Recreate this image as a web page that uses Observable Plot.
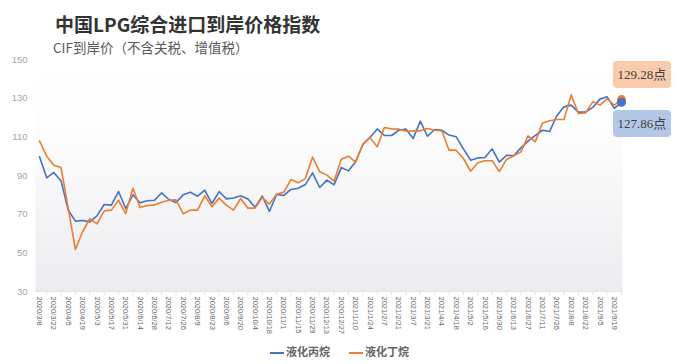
<!DOCTYPE html>
<html>
<head>
<meta charset="utf-8">
<script src="https://cdn.jsdelivr.net/npm/d3@7"></script>
<script src="https://cdn.jsdelivr.net/npm/@observablehq/plot@0.6"></script>
<style>
  html, body { margin: 0; padding: 0; background: #fff; }
  #wrap { position: relative; width: 677px; height: 364px; overflow: hidden; font-family: "Noto Sans CJK SC", "Noto Sans", sans-serif; }
  #wrap svg { position: absolute; left: 0; top: 0; }
  .title { position: absolute; left: 55px; top: 11px; font-size: 19px; font-weight: bold; color: #333; white-space: nowrap; line-height: 26px; }
  .subtitle { position: absolute; left: 53px; top: 38px; font-size: 13.5px; color: #595959; white-space: nowrap; line-height: 18px; }
  .legend { position: absolute; top: 343px; left: 270px; font-size: 11px; font-weight: bold; color: #666; white-space: nowrap; line-height: 16px; }
  .legend span.item { display: inline-block; margin-right: 19px; }
  .legend i { display: inline-block; width: 14px; height: 2px; vertical-align: middle; margin-right: 2px; }
  .note { position: absolute; width: 58px; height: 27px; border-radius: 4px; font-family: "Liberation Serif", "Noto Sans CJK SC", serif; font-size: 13px; color: #404040; text-align: center; line-height: 27px; white-space: nowrap; }
</style>
</head>
<body>
<div id="wrap">
  <div class="title">中国LPG综合进口到岸价格指数</div>
  <div class="subtitle">CIF到岸价（不含关税、增值税）</div>
</div>
<script>
const dates = [
  "2020/3/8","2020/3/15","2020/3/22","2020/3/29","2020/4/5","2020/4/12","2020/4/19","2020/4/26",
  "2020/5/3","2020/5/10","2020/5/17","2020/5/24","2020/5/31","2020/6/7","2020/6/14","2020/6/21",
  "2020/6/28","2020/7/5","2020/7/12","2020/7/19","2020/7/26","2020/8/2","2020/8/9","2020/8/16",
  "2020/8/23","2020/8/30","2020/9/6","2020/9/13","2020/9/20","2020/9/27","2020/10/4","2020/10/11",
  "2020/10/18","2020/10/25","2020/11/1","2020/11/8","2020/11/15","2020/11/22","2020/11/29","2020/12/6",
  "2020/12/13","2020/12/20","2020/12/27","2021/1/3","2021/1/10","2021/1/17","2021/1/24","2021/1/31",
  "2021/2/7","2021/2/14","2021/2/21","2021/2/28","2021/3/7","2021/3/14","2021/3/21","2021/3/28",
  "2021/4/4","2021/4/11","2021/4/18","2021/4/25","2021/5/2","2021/5/9","2021/5/16","2021/5/23",
  "2021/5/30","2021/6/6","2021/6/13","2021/6/20","2021/6/27","2021/7/4","2021/7/11","2021/7/18",
  "2021/7/25","2021/8/1","2021/8/8","2021/8/15","2021/8/22","2021/8/29","2021/9/5","2021/9/12",
  "2021/9/19","2021/9/26"
];
const propane = [
  99.7, 88.8, 91.6, 87.2, 72, 66.4, 66.7, 66, 69.1, 75, 74.7, 81.7, 72.9, 80, 75.9, 76.9,
  77.2, 81, 77.6, 76, 80, 81.4, 79.3, 82.4, 75.5, 81.7, 77.9, 78.4, 79.5, 77.9, 73.6, 79.3,
  71.4, 80.2, 79.7, 82.8, 83.4, 85.3, 91.4, 83.8, 87.6, 85.2,
  94.1, 92.4, 97.1, 106, 109.7, 114.1, 110.7, 110.7, 113.4, 114, 109.1, 118.1, 110.3, 113.8,
  113.4, 110.9, 110, 103.8, 97.9, 99.1, 99.3, 103.8, 96.9, 100.5, 100.2, 104.3, 107.8, 110.7,
  113.4, 112.8, 120.9, 125.5, 126.4, 122.8, 122.8, 125.2, 129.5, 130.7, 124.7, 127.86
];
const butane = [
  107.9, 100, 95.3, 94.1, 73, 51.7, 60.9, 67.6, 65, 71.7, 72.1, 77.2, 70.3, 83.4, 73.4, 74.5,
  74.8, 76.2, 77.2, 77.4, 70.2, 72.1, 72.1, 79.5, 73.8, 78.3, 74.7, 72.1, 78.1, 73.1, 73.1, 78.6,
  75.2, 80.3, 81.4, 87.9, 86.2, 88.4, 99.5, 91.9, 90.2, 87.1,
  98.4, 100, 96.9, 106.2, 109.7, 104.8, 114.8, 114.1, 114, 112.9, 113.1, 113.1, 114.3, 113.4,
  113.1, 103.1, 103.1, 98.8, 92.2, 96.6, 97.6, 97.6, 92, 98.3, 100.2, 102.2, 110.5, 107.4,
  117.2, 118.3, 119, 119, 131.7, 122.1, 122.4, 128.1, 126.4, 129.7, 126.4, 129.28
];
const seriesNames = ["液化丙烷", "液化丁烷"];
const seriesColors = ["#4472C4", "#ED7D31"];
const noteFills = ["#B4C7E7", "#F8CBAD"];
const yTicks = [30, 50, 70, 90, 110, 130, 150];

const blueData = propane.map((v, i) => ({i, v}));
const orangeData = butane.map((v, i) => ({i, v}));
const labelIdx = dates.map((d, i) => i).filter(i => i % 2 === 0 && i <= 80);
const minorIdx = dates.map((d, i) => i).filter(i => i % 2 === 1);
const last = dates.length - 1;

const plot = Plot.plot({
  width: 677,
  height: 364,
  marginLeft: 35,
  marginRight: 55,
  marginTop: 59,
  marginBottom: 73,
  style: {background: "transparent", overflow: "visible"},
  x: {domain: [-0.557, 81.14], axis: null},
  y: {domain: [30, 150], axis: null},
  marks: [
    Plot.frame({fill: "url(#bgGrad)", stroke: null}),
    Plot.ruleY([30], {stroke: "#e2e2e2"}),
    Plot.ruleX(minorIdx, {x: d => d, y1: 30, y2: 28, stroke: "#e0e0e0"}),
    Plot.axisY(yTicks, {tickSize: 0, tickPadding: 8, fontSize: 9.5, fill: "#a6a6a6", label: null, fontFamily: "Liberation Sans, Arial, sans-serif"}),
    Plot.text(labelIdx, {x: d => d, y: 30, text: d => dates[d], rotate: 90, textAnchor: "start", lineAnchor: "middle", dy: 5, fontSize: 7.5, fill: "#666", fontFamily: "Liberation Sans, Arial, sans-serif"}),
    Plot.line(blueData, {x: "i", y: "v", stroke: seriesColors[0], strokeWidth: 1.6}),
    Plot.line(orangeData, {x: "i", y: "v", stroke: seriesColors[1], strokeWidth: 1.6}),
    Plot.dot([orangeData[last]], {x: "i", y: "v", r: 4.5, fill: seriesColors[1]}),
    Plot.dot([blueData[last]], {x: "i", y: "v", r: 4.5, fill: seriesColors[0]})
  ]
});

const svg = d3.select(plot);
const defs = svg.insert("defs", ":first-child");
const g = defs.append("linearGradient").attr("id", "bgGrad").attr("x1", 0).attr("y1", 0).attr("x2", 0).attr("y2", 1);
g.append("stop").attr("offset", "0%").attr("stop-color", "#ffffff");
g.append("stop").attr("offset", "30%").attr("stop-color", "#fdfdfd");
g.append("stop").attr("offset", "100%").attr("stop-color", "#ececf0");

const wrap = document.getElementById("wrap");
wrap.insertBefore(plot, wrap.firstChild);

const xs = plot.scale("x"), ys = plot.scale("y");
const px = xs.apply(last);
const notes = [
  {text: butane[last].toFixed(2) + "点", fill: noteFills[1], top: ys.apply(butane[last]) - 38},
  {text: propane[last].toFixed(2) + "点", fill: noteFills[0], top: ys.apply(propane[last]) + 8}
];
for (const n of notes) {
  const d = document.createElement("div");
  d.className = "note";
  d.style.left = (px - 8) + "px";
  d.style.top = n.top + "px";
  d.style.background = n.fill;
  d.textContent = n.text;
  wrap.appendChild(d);
}

const leg = document.createElement("div");
leg.className = "legend";
leg.innerHTML = seriesNames.map((n, k) => `<span class="item"><i style="background:${seriesColors[k]}"></i>${n}</span>`).join("");
wrap.appendChild(leg);
</script>
</body>
</html>
